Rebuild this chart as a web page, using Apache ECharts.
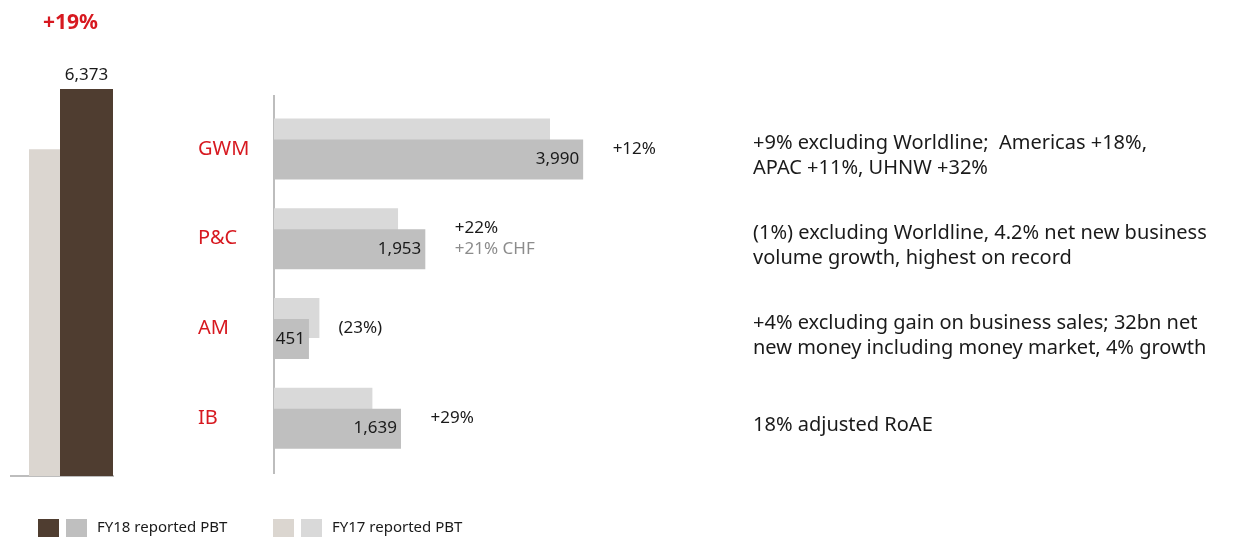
<!DOCTYPE html>
<html>
<head>
<meta charset="utf-8">
<title>PBT by division</title>
<script src="https://cdn.jsdelivr.net/npm/echarts@6/dist/echarts.min.js"></script>
<style>
  html, body { margin: 0; padding: 0; background: #fff; }
  #main { width: 1240px; height: 538px; }
</style>
</head>
<body>
<div id="main"></div>
<script>
// group totals (left)
const groupCats = ['Group'];
const groupFY17 = [5380];
const groupFY18 = [6373];
const groupGrowth = '+19%';

// divisions (right)
const divisions = ['GWM', 'P&C', 'AM', 'IB'];
const divFY17 = [3562, 1601, 586, 1270];
const divFY18 = [3990, 1953, 451, 1639];
const divGrowth = ['+12%', '+22%', '(23%)', '+29%'];
const divGrowthSub = ['', '+21% CHF', '', ''];
const divNotes = [
  '+9% excluding Worldline;  Americas +18%,\nAPAC +11%, UHNW +32%',
  '(1%) excluding Worldline, 4.2% net new business\nvolume growth, highest on record',
  '+4% excluding gain on business sales; 32bn net\nnew money including money market, 4% growth',
  '18% adjusted RoAE'
];

const FONT = '"Noto Sans", "Open Sans", sans-serif';
const RED = '#d71920';
const TXT = '#1a1a1a';

const fmt = v => v.toLocaleString('en-US');

const chart = echarts.init(document.getElementById('main'));

const legendBase = {
  selectedMode: false,
  icon: 'rect',
  itemWidth: 21,
  itemHeight: 18,
  padding: 0,
  top: 519,
  textStyle: { fontFamily: FONT, fontSize: 15, color: TXT, padding: [0, 0, 0, 5] }
};

const hidden = {
  axisLine: { show: false }, axisTick: { show: false },
  axisLabel: { show: false }, splitLine: { show: false }
};

chart.setOption({
  animation: false,
  title: {
    text: groupGrowth,
    left: 38,
    top: 8,
    textStyle: { fontFamily: FONT, fontSize: 21, fontWeight: 'bold', color: RED }
  },
  legend: [
    Object.assign({}, legendBase, { left: 38, data: ['FY18 group'], formatter: () => '' }),
    Object.assign({}, legendBase, { left: 66, data: ['FY18 reported PBT'] }),
    Object.assign({}, legendBase, { left: 273, data: ['FY17 group'], formatter: () => '' }),
    Object.assign({}, legendBase, { left: 301, data: ['FY17 reported PBT'] })
  ],
  grid: [
    { left: 19, width: 104, top: 89, height: 387 },
    { left: 274, right: 505, top: 104, height: 359 },
    // notes column, slightly lower than the bars
    { left: 274, right: 505, top: 111, height: 359 }
  ],
  xAxis: [
    Object.assign({ gridIndex: 0, type: 'category', data: groupCats }, hidden),
    Object.assign({ gridIndex: 1, type: 'value', min: 0, max: 5950 }, hidden),
    Object.assign({ gridIndex: 2, type: 'value', min: 0, max: 5950 }, hidden)
  ],
  yAxis: [
    Object.assign({ gridIndex: 0, type: 'value', min: 0, max: 6373 }, hidden),
    {
      gridIndex: 1, type: 'category', data: divisions, inverse: true,
      axisLine: { show: false }, axisTick: { show: false },
      axisLabel: {
        align: 'left', margin: 76, color: RED,
        fontFamily: FONT, fontSize: 20
      }
    },
    {
      gridIndex: 2, type: 'category', data: divNotes, inverse: true, position: 'right',
      axisLine: { show: false }, axisTick: { show: false },
      axisLabel: {
        align: 'left', margin: 18, color: TXT,
        fontFamily: FONT, fontSize: 20, lineHeight: 25
      }
    }
  ],
  graphic: [
    // right axis line and left baseline
    { type: 'line', shape: { x1: 274, y1: 95, x2: 274, y2: 474 }, style: { stroke: '#bdbdbd', lineWidth: 2 } },
    { type: 'line', shape: { x1: 10, y1: 476, x2: 114, y2: 476 }, style: { stroke: '#bdbdbd', lineWidth: 2 } }
  ],
  series: [
    {
      name: 'FY17 group', type: 'bar', xAxisIndex: 0, yAxisIndex: 0,
      data: groupFY17, barWidth: 53, barGap: '-41.5%',
      itemStyle: { color: '#dbd6d0' }
    },
    {
      name: 'FY18 group', type: 'bar', xAxisIndex: 0, yAxisIndex: 0,
      data: groupFY18, barWidth: 53,
      itemStyle: { color: '#4f3d30' },
      label: {
        show: true, position: 'top', distance: 5,
        formatter: p => fmt(p.value),
        fontFamily: FONT, fontSize: 17, color: TXT
      }
    },
    {
      name: 'FY17 reported PBT', type: 'bar', xAxisIndex: 1, yAxisIndex: 1,
      data: divFY17, barWidth: 40, barGap: '-47.5%',
      itemStyle: { color: '#d9d9d9' }
    },
    {
      name: 'FY18 reported PBT', type: 'bar', xAxisIndex: 1, yAxisIndex: 1,
      data: divFY18, barWidth: 40,
      itemStyle: { color: '#bfbfbf' },
      label: {
        show: true, position: 'insideRight', distance: 4,
        formatter: p => fmt(p.value),
        fontFamily: FONT, fontSize: 17, color: TXT
      }
    },
    {
      // growth rates written to the right of each FY18 bar
      name: 'growth', type: 'scatter', xAxisIndex: 1, yAxisIndex: 1,
      data: divFY18.map((v, i) => [v, i]),
      symbolSize: 1,
      itemStyle: { color: 'rgba(0,0,0,0)', opacity: 1 },
      label: {
        show: true, position: 'right', distance: 29,
        fontFamily: FONT, fontSize: 17, color: TXT,
        formatter: p => {
          const i = p.dataIndex;
          return divGrowthSub[i] ? '{a|' + divGrowth[i] + '}\n{b|' + divGrowthSub[i] + '}' : '{a|' + divGrowth[i] + '}';
        },
        rich: {
          a: { fontFamily: FONT, fontSize: 17, color: TXT, lineHeight: 21 },
          b: { fontFamily: FONT, fontSize: 17, color: '#8c8c8c', lineHeight: 21 }
        }
      }
    }
  ]
});
</script>
</body>
</html>
